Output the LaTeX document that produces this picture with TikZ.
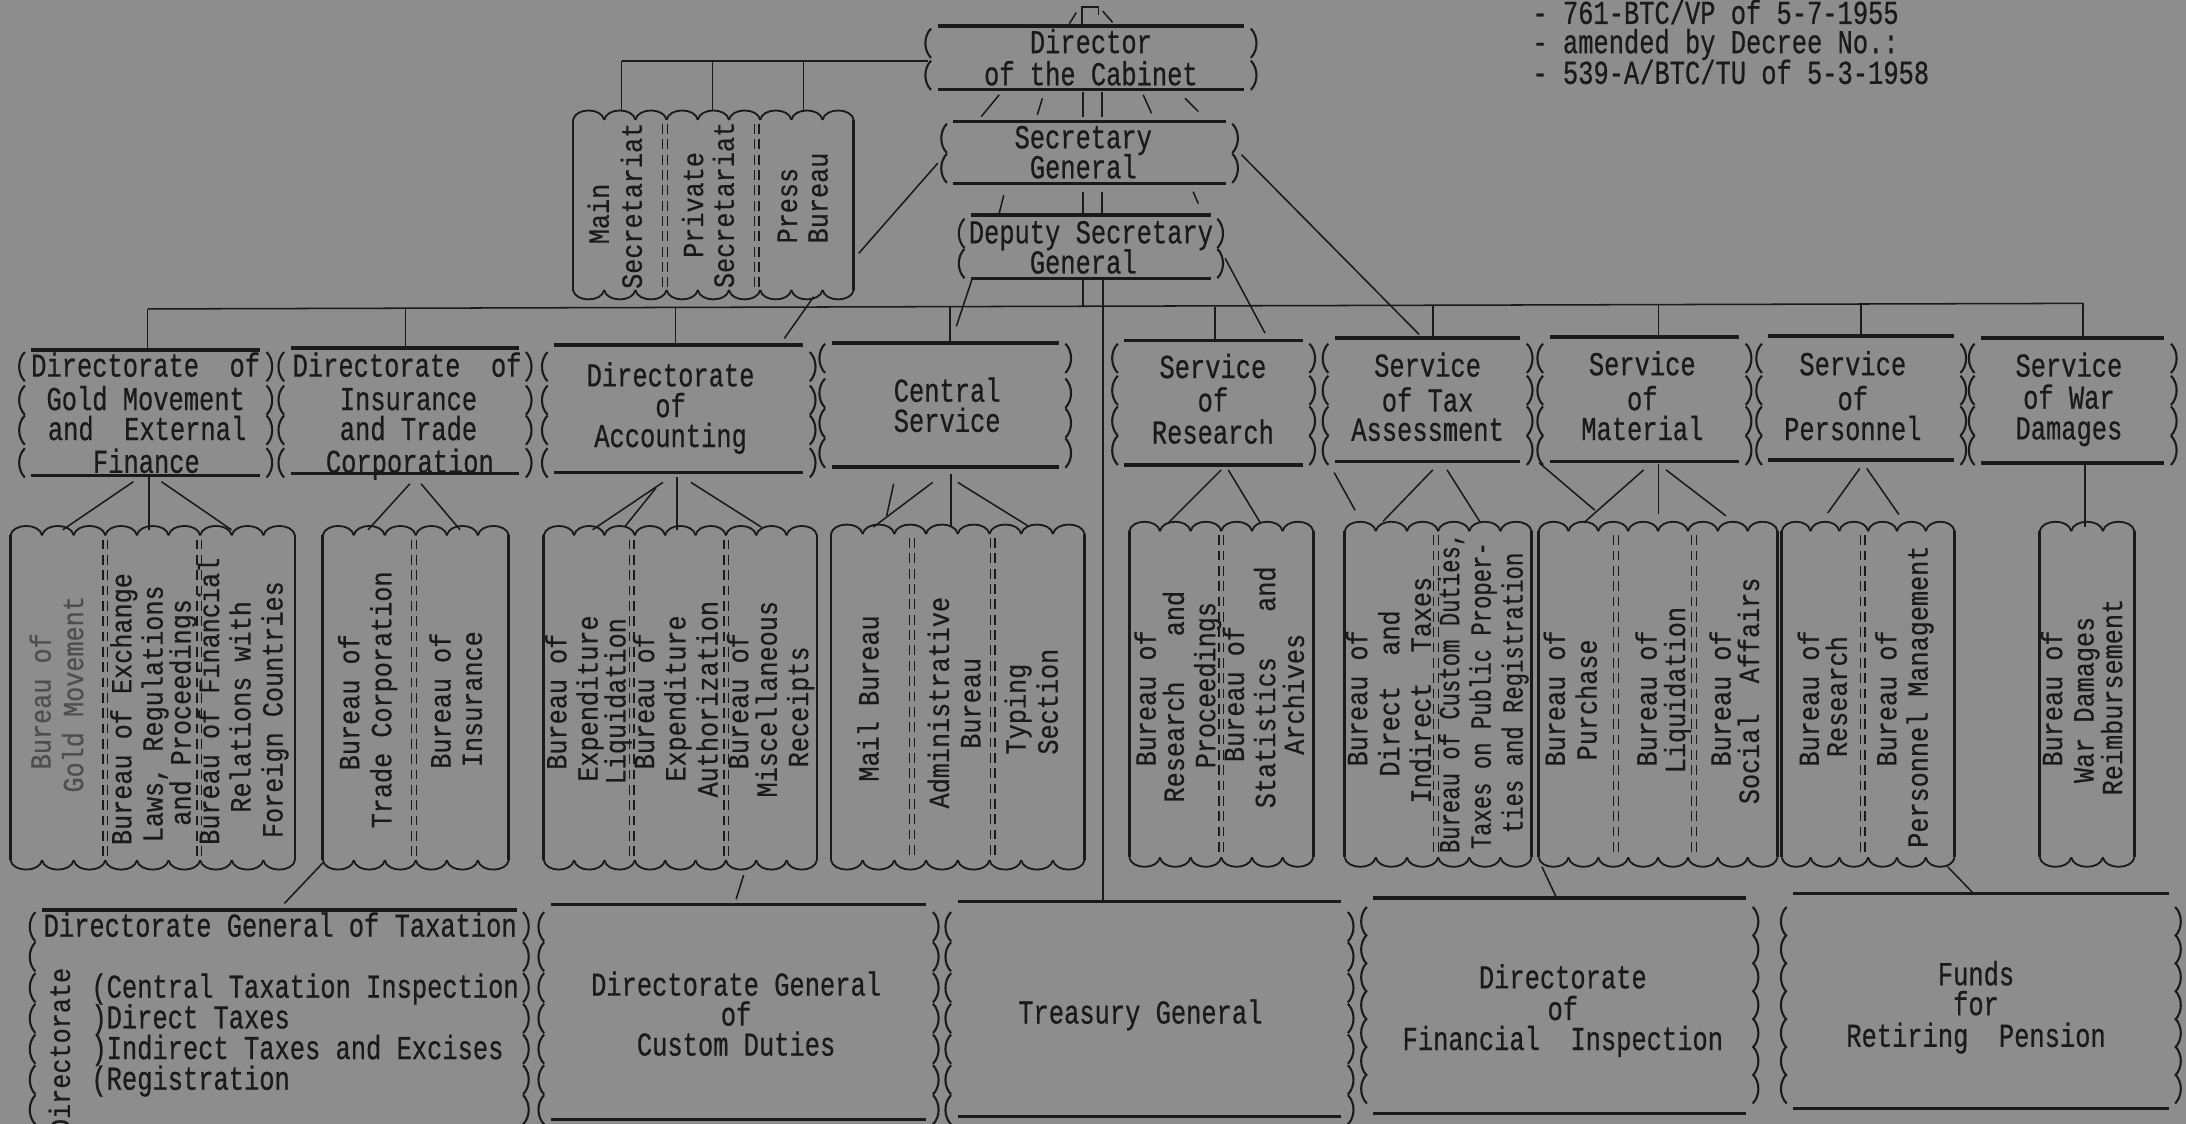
\documentclass[tikz,border=0pt]{standalone}
\usepackage{fontspec}
\newfontfamily\hfont[FakeStretch=0.76,FakeBold=0.6]{Liberation Mono}
\newfontfamily\vfontfam[FakeStretch=0.86,FakeBold=0.5]{Liberation Mono}
\newfontfamily\vfontn[FakeStretch=0.76,FakeBold=0.5]{Liberation Mono}
\definecolor{paper}{RGB}{141,141,141}
\definecolor{ink}{RGB}{26,26,26}
\definecolor{faint}{RGB}{78,78,78}
\tikzset{
  bar/.style={draw=ink, line width=2.4pt},
  conn/.style={draw=ink, line width=1.1pt},
  side/.style={draw=ink, line width=2pt},
  scal/.style={draw=ink, line width=1.3pt},
  parn/.style={draw=ink, line width=1.5pt},
  sepl/.style={draw=ink, line width=0.9pt, dash pattern=on 7pt off 4pt},
  frame/.style={draw=none, inner sep=0pt, rectangle},
  ht/.style={text=ink, font=\hfont\fontsize{24}{26}\selectfont, inner sep=0pt, anchor=mid, yshift=-5pt},
  vt/.style={text=ink, font=\vfontfam\fontsize{21}{23}\selectfont, inner sep=0pt, anchor=mid, rotate=90},
  vtn/.style={font=\vfontn\fontsize{21}{23}\selectfont},
}
\newcommand\pbx[6]{%
  \node[frame, minimum width={#3-#2}, minimum height={#5-#4}] (#1) at ({(#2+#3)/2},{(#4+#5)/2}) {};
  \draw[bar] ({#2+7.5},#4) -- ({#3-7.5},#4);
  \draw[bar] ({#2+7.5},#5) -- ({#3-7.5},#5);
  \foreach \yy in {#6} {%
    \draw[parn] ({#2+2.8},{\yy-10.5}) .. controls ({#2-2.6},{\yy-5}) and ({#2-2.6},{\yy+5}) .. ({#2+2.8},{\yy+10.5});
    \draw[parn] ({#3-2.8},{\yy-10.5}) .. controls ({#3+2.6},{\yy-5}) and ({#3+2.6},{\yy+5}) .. ({#3-2.8},{\yy+10.5});
  }%
}
\newcommand\sbx[6]{%
  \node[frame, minimum width={#3-#2}, minimum height={#5-#4}] (#1) at ({(#2+#3)/2},{(#4+#5)/2}) {};
  \draw[side] (#2,#4) -- (#2,#5);
  \draw[side] (#3,#4) -- (#3,#5);
  \pgfmathsetmacro\scw{(#3-#2)/#6}
  \foreach \ii in {1,...,#6} {%
    \pgfmathsetmacro\xa{#2+(\ii-1)*\scw}
    \pgfmathsetmacro\xb{#2+\ii*\scw}
    \draw[scal] (\xa,#4) .. controls ({\xa+0.08*\scw},{#4-9}) and ({\xb-0.08*\scw},{#4-9}) .. (\xb,#4);
    \draw[scal] (\xa,#5) .. controls ({\xa+0.08*\scw},{#5+9}) and ({\xb-0.08*\scw},{#5+9}) .. (\xb,#5);
  }%
}
\newcommand\sepdd[3]{%
  \draw[sepl] ({#1-1.7},#2) -- ({#1-1.7},#3);
  \draw[sepl] ({#1+1.7},#2) -- ({#1+1.7},#3);
}
\newcommand\conx[5]{%
  \coordinate (#1a) at (#2,#3);
  \coordinate (#1b) at (#4,#5);
  \draw[conn] (#1a) -- (#1b);
}
\newcommand\tx[5][]{\node[ht,#1] (#2) at (#3,#4) {#5};}
\newcommand\vx[5][]{\node[vt,#1] (#2) at ({#3+1.5},#4) {#5};}

\begin{document}
\begin{tikzpicture}[x=1pt,y=-1pt]
\useasboundingbox (0,0) rectangle (1568,806);
\fill[paper] (0,0) rectangle (1568,806);

% ---------------- top right note
\tx[anchor=mid west]{n1}{1099}{10}{- 761-BTC/VP of 5-7-1955}
\tx[anchor=mid west]{n2}{1099}{31}{- amended by Decree No.:}
\tx[anchor=mid west]{n3}{1099}{53}{- 539-A/BTC/TU of 5-3-1958}

% ---------------- top boxes
\pbx{dir}{665}{900}{18.6}{64}{31,54}
\tx{dir1}{782.5}{31}{Director}
\tx{dir2}{782.5}{54}{of the Cabinet}

\pbx{secg}{676.4}{886.7}{87.3}{131.5}{99.2,120.7}
\tx{sec1}{777}{99.2}{Secretary}
\tx{sec2}{777}{120.7}{General}

\pbx{dep}{689}{876}{154.2}{199.7}{167.4,189}
\tx{dep1}{782.5}{167.4}{Deputy Secretary}
\tx{dep2}{777}{189}{General}

% Main / Private / Press
\sbx{mps}{411}{612.4}{86}{208}{9}
\sepdd{477}{89}{206}
\sepdd{542.7}{89}{206}
\vx{m1}{433}{153.5}{Main}
\vx{m2}{456.7}{147.6}{Secretariat}
\vx{m3}{500.7}{147}{Private}
\vx{m4}{522.7}{147}{Secretariat}
\vx{m5}{568}{147.5}{Press}
\vx{m6}{590}{142}{Bureau}

% marks above director
\conx{mk1}{772}{9}{767}{17}
\draw[conn] (776,17) -- (776,5) -- (788,5) -- (788,11);
\conx{mk2}{791}{8}{798}{16}

% top connectors
\conx{hl}{445.8}{43.8}{665.4}{43.8}
\conx{dA}{445.8}{43.8}{445.8}{79}
\conx{dB}{511}{43.8}{511}{79}
\conx{dC}{576.5}{43.8}{576.5}{79}
\conx{ds1}{716.7}{68}{703.8}{83.7}
\conx{ds2}{747.7}{70.5}{744}{82.5}
\conx{ds3}{777}{66}{777}{83.7}
\conx{ds4}{790.3}{66}{790.3}{83.7}
\conx{ds5}{820}{68}{826}{81.3}
\conx{ds6}{850}{70.5}{859.6}{80}
\conx{ss1}{720}{140}{716.7}{153}
\conx{ss2}{777}{137.5}{777}{153}
\conx{ss3}{790.3}{137.5}{790.3}{153}
\conx{ss4}{855.8}{137.5}{859.5}{146}
\conx{dd1}{777}{201}{777}{219.6}
\conx{ctr}{791.3}{201}{791.3}{647}
\conx{sl}{672.7}{117}{616}{181.7}
\conx{sr}{890.5}{111}{1018}{240}
\conx{dr}{878.8}{185.3}{907.4}{239}
\conx{dl}{697}{201}{686}{234}
\conx{pb}{583.7}{212.8}{562.6}{242.7}
\conx{bus}{106}{221.6}{1494}{217.6}
\conx{b01}{105.7}{221.6}{105.7}{250}
\conx{b02}{291}{221.3}{291}{249}
\conx{b03}{484.6}{221}{484.6}{247}
\conx{b04}{681.5}{220.5}{681.5}{245}
\conx{b05}{871.6}{220}{871.6}{243.5}
\conx{b06}{1027.8}{219.5}{1027.8}{242}
\conx{b07}{1189.7}{219}{1189.7}{241}
\conx{b08}{1335}{218}{1335}{241}
\conx{b09}{1494}{217.6}{1494}{242}

% ---------------- row 2
\pbx{gold}{15}{194}{251}{341}{263,287,308.5,332}
\tx{g1}{104.5}{263}{Directorate~~of}
\tx{g2}{104.5}{287}{Gold Movement}
\tx{g3}{105.5}{308.5}{and~~External}
\tx{g4}{105}{332}{Finance}

\pbx{ins}{201}{380}{249.5}{339.5}{263,287,308.5,332}
\tx{i1}{292}{263}{Directorate~~of}
\tx{i2}{293}{287}{Insurance}
\tx{i3}{293}{308.5}{and Trade}
\tx{i4}{294}{332}{Corporation}

\pbx{acc}{390}{583.7}{247.5}{338.7}{263,287,308.5,332}
\tx{a1}{481}{270}{Directorate}
\tx{a2}{481}{292}{of}
\tx{a3}{481}{313.5}{Accounting}

\pbx{cen}{589}{767}{246}{335}{257,282,303.5,325}
\tx{c1}{679.4}{281}{Central}
\tx{c2}{679.4}{302.6}{Service}

\pbx{res}{799}{942}{244}{333.6}{257,280,302,323}
\tx{r1}{870}{264}{Service}
\tx{r2}{870}{288}{of}
\tx{r3}{870}{311}{Research}

\pbx{tax}{950}{1098}{242.5}{331}{257,280,302,323}
\tx{t1}{1024}{263}{Service}
\tx{t2}{1024}{288}{of Tax}
\tx{t3}{1024}{309}{Assessment}

\pbx{mat}{1104}{1255}{241.6}{331}{257,280,302,323}
\tx{mt1}{1178}{262}{Service}
\tx{mt2}{1178}{287}{of}
\tx{mt3}{1178}{308.5}{Material}

\pbx{per}{1261}{1409}{241}{330}{257,280,302,323}
\tx{p1}{1329}{262}{Service}
\tx{p2}{1329}{287}{of}
\tx{p3}{1329}{308.5}{Personnel}

\pbx{war}{1413.5}{1560}{242.5}{332}{257,280,302,323}
\tx{w1}{1484}{263}{Service}
\tx{w2}{1484}{286}{of War}
\tx{w3}{1484}{308}{Damages}

% ---------------- row 2 -> row 3 fans
\conx{f01}{95.7}{345.5}{45}{380}
\conx{f02}{107}{342}{107}{380}
\conx{f03}{115.8}{345.5}{166}{380}
\conx{f04}{294}{347}{264}{380}
\conx{f05}{302}{347}{330}{380}
\conx{f06}{475.5}{346}{425}{380}
\conx{f07}{470.5}{350}{448}{378}
\conx{f08}{485.6}{342}{485.6}{380}
\conx{f09}{495.6}{346}{546}{378}
\conx{f10}{669}{346}{626.5}{378}
\conx{f11}{682}{340}{682}{378}
\conx{f12}{687}{346}{737}{377}
\conx{f13}{641}{347}{636}{370}
\conx{f14}{876}{337}{838}{375}
\conx{f15}{881}{337}{904}{375}
\conx{f16}{957}{339}{972}{366}
\conx{f17}{1027.8}{337}{992}{374}
\conx{f18}{1037.9}{337}{1062}{375}
\conx{f19}{1104}{332}{1144}{366}
\conx{f20}{1179}{337}{1136}{375}
\conx{f21}{1189.5}{333}{1189.5}{369}
\conx{f22}{1195}{337}{1238}{370}
\conx{f23}{1334}{336}{1311}{368}
\conx{f24}{1339}{336}{1362}{369}
\conx{f25}{1495.7}{332}{1495.7}{378}

% ---------------- row 3 bureaus
\sbx{bu1}{7.5}{211.6}{384}{617}{9}
\sepdd{75.5}{387}{614}
\sepdd{143}{387}{614}
\vx[text=faint]{u11}{32.7}{503}{Bureau of}
\vx[text=faint]{u12}{56}{498}{Gold Movement}
\vx{u13}{90.6}{508.6}{Bureau of Exchange}
\vx{u14}{113}{512}{Laws, Regulations}
\vx{u15}{133}{511}{and Proceedings}
\vx{u16}{153.5}{503}{Bureau of Financial}
\vx{u17}{176}{507}{Relations with}
\vx{u18}{199}{509}{Foreign Countries}

\sbx{bu2}{231.5}{365}{384}{617}{6}
\sepdd{297}{387}{614}
\vx{u21}{254}{503.7}{Bureau of}
\vx{u22}{277}{502}{Trade Corporation}
\vx{u23}{319.5}{502.6}{Bureau of}
\vx{u24}{342}{501.5}{Insurance}

\sbx{bu3}{390}{586}{384}{617}{9}
\sepdd{453}{387}{614}
\sepdd{521}{387}{614}
\vx{u31}{402.6}{503.3}{Bureau of}
\vx{u32}{425}{501}{Expenditure}
\vx{u33}{445}{503}{Liquidation}
\vx{u34}{465.5}{503}{Bureau of}
\vx{u35}{488}{501}{Expenditure}
\vx{u36}{511}{501.5}{Authorization}
\vx{u37}{533}{503}{Bureau of}
\vx{u38}{553.5}{501.5}{Miscellaneous}
\vx{u39}{576}{507}{Receipts}

\sbx{bu4}{596}{778}{383}{617}{8}
\sepdd{654}{386}{614}
\sepdd{712}{386}{614}
\vx{u41}{626.5}{501}{Mail Bureau}
\vx{u42}{677}{504}{Administrative}
\vx{u43}{699.5}{504.5}{Bureau}
\vx{u44}{732}{508.6}{Typing}
\vx{u45}{755}{503.3}{Section}

\sbx{bu5}{810}{942}{381}{615}{6}
\sepdd{876}{384}{612}
\vx{u51}{825.3}{500.9}{Bureau of}
\vx{u52}{845.5}{499.7}{Research~~~and}
\vx{u53}{868}{491.4}{Proceedings}
\vx{u54}{888.6}{497.8}{Bureau of}
\vx{u55}{911}{493}{Statistics~~~and}
\vx{u56}{931.6}{498}{Archives}

\sbx{bu6}{964.5}{1098.6}{381}{615}{6}
\sepdd{1030}{384}{612}
\vx{u61}{977}{500.9}{Bureau of}
\vx{u62}{1000}{497.4}{Direct~~and}
\vx{u63}{1022.6}{495}{Indirect~~Taxes}
\vx[vtn]{u64}{1043}{497}{Bureau of Custom Duties,}
\vx[vtn]{u65}{1065.6}{499}{Taxes on Public Proper-}
\vx[vtn]{u66}{1088.5}{497}{ties and Registration}

\sbx{bu7}{1103.6}{1275}{381}{615}{8}
\sepdd{1159}{384}{612}
\sepdd{1215}{384}{612}
\vx{u71}{1118.8}{501}{Bureau of}
\vx{u72}{1141.6}{502}{Purchase}
\vx{u73}{1184.6}{501}{Bureau of}
\vx{u74}{1205}{495}{Liquidation}
\vx{u75}{1237.7}{501}{Bureau of}
\vx{u76}{1258}{495.5}{Social~~Affairs}

\sbx{bu8}{1278}{1402}{381}{615}{6}
\sepdd{1336}{384}{612}
\vx{u81}{1301}{501}{Bureau of}
\vx{u82}{1321}{499.7}{Research}
\vx{u83}{1356.6}{501}{Bureau of}
\vx{u84}{1379}{499.7}{Personnel Management}

\sbx{bu9}{1463}{1531}{381}{615}{3}
\vx{u91}{1475.5}{501}{Bureau of}
\vx{u92}{1498}{502}{War Damages}
\vx{u93}{1518.5}{500}{Reimbursement}

% ---------------- row 3 -> row 4
\conx{g01}{231.5}{619}{204}{648}
\conx{g02}{533.4}{627.7}{528}{645}
\conx{g03}{1106}{621.7}{1116}{643}
\conx{g04}{1397}{621.7}{1414.7}{640}

% ---------------- row 4
\pbx{taxg}{22.6}{378}{652.8}{830}{664.7,686.3,708.5,730.5,752.5,774.5,796}
\tx{x1}{201}{664.7}{Directorate General of Taxation}
\tx[anchor=mid west]{x2}{65.4}{708.5}{(Central Taxation Inspection}
\tx[anchor=mid west]{x3}{65.4}{730.5}{)Direct Taxes}
\tx[anchor=mid west]{x4}{65.4}{752.5}{)Indirect Taxes and Excises}
\tx[anchor=mid west]{x5}{65.4}{774.5}{(Registration}
\vx[anchor=mid east]{x6}{46.5}{694}{Directorate}

\pbx{cus}{387.5}{672}{649}{803}{664.7,686.3,708.5,730.5,752.5,774.5,796}
\tx{cu1}{528}{707}{Directorate General}
\tx{cu2}{528}{728.5}{of}
\tx{cu3}{528}{750}{Custom Duties}

\pbx{tre}{679.4}{969.6}{646.8}{801}{664.7,686.3,708.5,730.5,752.5,774.5,796}
\tx{tr1}{818}{727}{Treasury General}

\pbx{fin}{977.6}{1260}{644}{798.5}{661,681,701,721,741,761,781}
\tx{fi1}{1121}{701.8}{Directorate}
\tx{fi2}{1121}{724.5}{of}
\tx{fi3}{1121}{746}{Financial~~Inspection}

\pbx{fun}{1278.7}{1563}{640.7}{795}{661,681,701,721,741,761,781}
\tx{fu1}{1417.4}{699.5}{Funds}
\tx{fu2}{1417.4}{721}{for}
\tx{fu3}{1417.4}{743.7}{Retiring~~Pension}
\end{tikzpicture}
\end{document}
